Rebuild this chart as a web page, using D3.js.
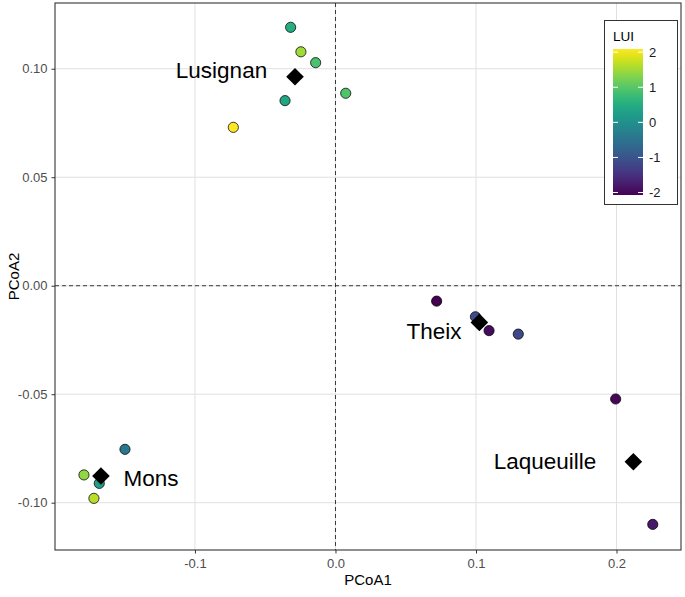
<!DOCTYPE html>
<html>
<head>
<meta charset="utf-8">
<script src="https://cdn.jsdelivr.net/npm/d3@7"></script>
<style>
  html, body { margin: 0; padding: 0; background: #ffffff; }
  svg { display: block; font-family: "Liberation Sans", Arial, Helvetica, sans-serif; }
</style>
</head>
<body>
<svg id="chart" width="685" height="597"></svg>
<script>
// ---------- data ----------
const siteName = ["Lusignan","Lusignan","Lusignan","Lusignan","Lusignan","Lusignan",
                  "Mons","Mons","Mons","Mons",
                  "Theix","Theix","Theix","Theix",
                  "Laqueuille","Laqueuille"];
const pcoa1 = [-0.0319,-0.0246,-0.0141,0.0073,-0.0359,-0.0727,
               -0.1498,-0.1790,-0.1681,-0.1719,
               0.0720,0.0996,0.1093,0.1301,
               0.1994,0.2258];
const pcoa2 = [0.1191,0.1078,0.1028,0.0887,0.0853,0.0730,
               -0.0754,-0.0872,-0.0911,-0.0980,
               -0.0071,-0.0143,-0.0207,-0.0223,
               -0.0522,-0.1100];
const lui = [0.50,1.50,0.90,0.95,0.40,2.09,
             -0.40,1.40,0.25,1.65,
             -2.07,-1.10,-1.95,-1.15,
             -2.00,-1.80];

const centroidSite = ["Lusignan","Mons","Theix","Laqueuille"];
const centroidX = [-0.0288,-0.1669,0.1024,0.2120];
const centroidY = [0.0963,-0.0877,-0.0169,-0.0811];
const labelX = [-0.0811,-0.1313,0.0701,0.1491];
const labelY = [0.0993,-0.0884,-0.0209,-0.0808];

const xTicks = [-0.1, 0.0, 0.1, 0.2];
const xTickLabels = ["-0.1","0.0","0.1","0.2"];
const yTicks = [-0.10, -0.05, 0.00, 0.05, 0.10];
const yTickLabels = ["-0.10","-0.05","0.00","0.05","0.10"];
const legendTicks = [-2, -1, 0, 1, 2];

// ---------- layout ----------
const svg = d3.select("#chart");
const panel = {left: 55, top: 3, right: 681, bottom: 550};

const x = d3.scaleLinear().domain([-0.1996, 0.2459]).range([panel.left, panel.right]);
const y = d3.scaleLinear().domain([-0.1218, 0.1303]).range([panel.bottom, panel.top]);
const color = d3.scaleSequential(d3.interpolateViridis).domain(d3.extent(lui));

// panel background
svg.append("rect").attr("x", panel.left).attr("y", panel.top)
  .attr("width", panel.right - panel.left).attr("height", panel.bottom - panel.top)
  .attr("fill", "#ffffff");

// grid
const grid = svg.append("g");
grid.selectAll(".gx").data(xTicks).join("line")
  .attr("x1", d => x(d)).attr("x2", d => x(d))
  .attr("y1", panel.top).attr("y2", panel.bottom)
  .attr("stroke", "#e0e0e0").attr("stroke-width", 1);
grid.selectAll(".gy").data(yTicks).join("line")
  .attr("y1", d => y(d)).attr("y2", d => y(d))
  .attr("x1", panel.left).attr("x2", panel.right)
  .attr("stroke", "#e0e0e0").attr("stroke-width", 1);

// dashed zero lines
svg.append("line").attr("x1", x(0)).attr("x2", x(0)).attr("y1", panel.top).attr("y2", panel.bottom)
  .attr("stroke", "#222").attr("stroke-width", 0.9).attr("stroke-dasharray", "4,3");
svg.append("line").attr("y1", y(0)).attr("y2", y(0)).attr("x1", panel.left).attr("x2", panel.right)
  .attr("stroke", "#222").attr("stroke-width", 0.9).attr("stroke-dasharray", "4,3");

// axes
const xAxis = d3.axisBottom(x).tickValues(xTicks).tickFormat((d, i) => xTickLabels[i]).tickSize(3.5).tickPadding(5);
const yAxis = d3.axisLeft(y).tickValues(yTicks).tickFormat((d, i) => yTickLabels[i]).tickSize(3.5).tickPadding(4);
const gx = svg.append("g").attr("transform", `translate(0,${panel.bottom})`).call(xAxis);
const gy = svg.append("g").attr("transform", `translate(${panel.left},0)`).call(yAxis);
[gx, gy].forEach(g => {
  g.select(".domain").remove();
  g.selectAll(".tick line").attr("stroke", "#333");
  g.selectAll(".tick text").attr("fill", "#4d4d4d").style("font-size", "13px")
    .style("font-family", "'Liberation Sans', Arial, sans-serif");
});

// panel border
svg.append("rect").attr("x", panel.left).attr("y", panel.top)
  .attr("width", panel.right - panel.left).attr("height", panel.bottom - panel.top)
  .attr("fill", "none").attr("stroke", "#333333").attr("stroke-width", 1.1);

// axis titles
svg.append("text").attr("x", (panel.left + panel.right) / 2).attr("y", 585)
  .attr("text-anchor", "middle").style("font-size", "15px").attr("fill", "#000").text("PCoA1");
svg.append("text").attr("transform", `translate(19,${(panel.top + panel.bottom) / 2}) rotate(-90)`)
  .attr("text-anchor", "middle").style("font-size", "15px").attr("fill", "#000").text("PCoA2");

// points
const idx = d3.range(pcoa1.length);
svg.append("g").selectAll("circle").data(idx).join("circle")
  .attr("cx", i => x(pcoa1[i])).attr("cy", i => y(pcoa2[i])).attr("r", 5.1)
  .attr("fill", i => color(lui[i])).attr("stroke", "#000").attr("stroke-width", 0.75);

// centroids (diamonds)
const r = 8.8;
const cidx = d3.range(centroidX.length);
svg.append("g").selectAll("path").data(cidx).join("path")
  .attr("transform", i => `translate(${x(centroidX[i])},${y(centroidY[i])})`)
  .attr("d", `M0,${-r}L${r},0L0,${r}L${-r},0Z`)
  .attr("fill", "#000");

// site labels
svg.append("g").selectAll("text").data(cidx).join("text")
  .attr("x", i => x(labelX[i])).attr("y", i => y(labelY[i]))
  .attr("text-anchor", "middle").attr("dy", "0.36em")
  .style("font-size", "22.5px").attr("fill", "#000")
  .text(i => centroidSite[i]);

// legend
const lg = {x: 604.5, y: 20.5, w: 73, h: 184};
const bar = {x: 613, y: 49, w: 30, h: 146};
svg.append("rect").attr("x", lg.x).attr("y", lg.y).attr("width", lg.w).attr("height", lg.h)
  .attr("fill", "#fff").attr("stroke", "#333").attr("stroke-width", 1);
svg.append("text").attr("x", 613).attr("y", 41).style("font-size", "13.5px").attr("fill", "#000").text("LUI");

const defs = svg.append("defs");
const grad = defs.append("linearGradient").attr("id", "luiGrad")
  .attr("x1", "0").attr("y1", "1").attr("x2", "0").attr("y2", "0");
d3.range(0, 1.0001, 0.05).forEach(t => {
  grad.append("stop").attr("offset", t).attr("stop-color", d3.interpolateViridis(t));
});
svg.append("rect").attr("x", bar.x).attr("y", bar.y).attr("width", bar.w).attr("height", bar.h)
  .attr("fill", "url(#luiGrad)");

const ly = d3.scaleLinear().domain(color.domain()).range([bar.y + bar.h, bar.y]);
const lt = svg.append("g");
lt.selectAll(".tl").data(legendTicks).join("line")
  .attr("x1", bar.x).attr("x2", bar.x + 5).attr("y1", d => ly(d)).attr("y2", d => ly(d))
  .attr("stroke", "#fff").attr("stroke-width", 1);
lt.selectAll(".tr").data(legendTicks).join("line")
  .attr("x1", bar.x + bar.w - 5).attr("x2", bar.x + bar.w).attr("y1", d => ly(d)).attr("y2", d => ly(d))
  .attr("stroke", "#fff").attr("stroke-width", 1);
lt.selectAll("text").data(legendTicks).join("text")
  .attr("x", 649).attr("y", d => ly(d)).attr("dy", "0.36em")
  .style("font-size", "13px").attr("fill", "#1a1a1a").text(d => d);
</script>
</body>
</html>
